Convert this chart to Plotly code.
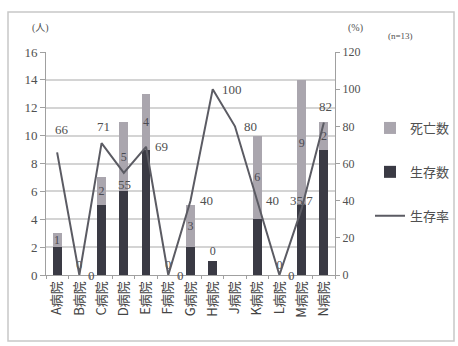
import plotly.graph_objects as go

# Hospital-level outcomes
hospitals = ["A病院", "B病院", "C病院", "D病院", "E病院", "F病院", "G病院",
             "H病院", "J病院", "K病院", "L病院", "M病院", "N病院"]
survived = [2, 0, 5, 6, 9, 0, 2, 1, None, 4, 0, 5, 9]
died = [1, 0, 2, 5, 4, 0, 3, 0, None, 6, 0, 9, 2]
survival_rate = [66, 0, 71, 55, 69, 0, 40, 100, 80, 40, 0, 35.7, 82]
rate_labels = ["66", "0", "71", "55", "69", "0", "40", "100", "80", "40", "0", "35.7", "82"]

# where each survival-rate label sits relative to its point
rate_label_place = ["above-right", "right", "above", "below", "right", "right", "right",
                    "right", "right", "right", "right", "on", "above"]

SERIF = "Liberation Serif, Noto Sans CJK JP, serif"
CJK = "Noto Sans CJK JP, sans-serif"
GRID = "#d4d4d4"
AXIS = "#a0a0a0"
TXT = "#505050"

PLACE = {
    "right": dict(xanchor="left", yanchor="middle", xshift=7, yshift=0),
    "above-right": dict(xanchor="center", yanchor="bottom", xshift=5, yshift=13),
    "above": dict(xanchor="center", yanchor="bottom", xshift=2, yshift=7),
    "below": dict(xanchor="center", yanchor="top", xshift=1, yshift=-2),
    "on": dict(xanchor="center", yanchor="bottom", xshift=0, yshift=-1),
}

died_text = ["" if v is None else str(v) for v in died]
died_pos = ["outside" if (v == 0) else "inside" for v in died]

fig = go.Figure()

fig.add_trace(go.Bar(
    x=hospitals, y=survived, name="生存数",
    marker=dict(color="#3a3a44", line=dict(width=0)),
    width=0.4, legendrank=2, legendgroup="g2",
))
fig.add_trace(go.Bar(
    x=hospitals, y=died, name="死亡数",
    marker=dict(color="#aaa6ae", line=dict(width=0)),
    width=0.4, legendrank=1, legendgroup="g1",
    text=died_text, textposition=died_pos, constraintext="none",
    insidetextanchor="middle",
    textfont=dict(family=SERIF, size=12, color="#4a4a52"),
    cliponaxis=False,
))
fig.add_trace(go.Scatter(
    x=hospitals, y=survival_rate, name="生存率", yaxis="y2",
    mode="lines",
    line=dict(color="#5b5b63", width=2),
    legendrank=3, legendgroup="g3", cliponaxis=False,
))

# survival-rate data labels
for h, v, t, p in zip(hospitals, survival_rate, rate_labels, rate_label_place):
    fig.add_annotation(x=h, y=v, xref="x", yref="y2", text=t, showarrow=False,
                       font=dict(family=SERIF, size=13, color=TXT), **PLACE[p])

# Outer frame of the chart
fig.add_shape(type="rect", xref="paper", yref="paper",
              x0=8 / 458, x1=454 / 458, y0=1 - 341 / 346, y1=1 - 12 / 346,
              line=dict(color="#c8c8c8", width=1.5), layer="below")

for txt, px, py, sz in [("(人)", 40, 28, 10), ("(%)", 355, 28, 10), ("(n=13)", 400, 36, 9)]:
    fig.add_annotation(text=txt, x=px / 458, y=1 - py / 346, xref="paper", yref="paper",
                       xanchor="center", yanchor="middle", showarrow=False,
                       font=dict(family=SERIF, size=sz, color=TXT))

fig.update_layout(
    width=458, height=346,
    margin=dict(l=0, r=0, t=0, b=0, autoexpand=False),
    paper_bgcolor="white", plot_bgcolor="white",
    barmode="stack",
    showlegend=True,
    legend=dict(x=370 / 458, y=1 - 113 / 346, xanchor="left", yanchor="top",
                font=dict(family=CJK, size=13, color=TXT),
                tracegroupgap=24, itemwidth=30, bgcolor="rgba(0,0,0,0)",
                traceorder="grouped"),
    xaxis=dict(
        domain=[46 / 458, 335 / 458],
        type="category", automargin=False,
        tickangle=-90,
        tickfont=dict(family=CJK, size=13, color="#444"),
        showline=True, linecolor=AXIS, linewidth=1,
        ticks="outside", ticklen=3, tickcolor=AXIS, tickson="boundaries",
        showgrid=False,
    ),
    yaxis=dict(
        domain=[1 - 275 / 346, 1 - 52 / 346], automargin=False,
        range=[0, 16], dtick=2,
        tickfont=dict(family=SERIF, size=13, color=TXT),
        showline=True, linecolor=AXIS, linewidth=1,
        ticks="outside", ticklen=5, tickcolor=AXIS,
        showgrid=True, gridcolor=GRID, gridwidth=1.5,
        zeroline=False,
    ),
    yaxis2=dict(
        overlaying="y", side="right", automargin=False,
        range=[0, 120], dtick=20,
        tickfont=dict(family=SERIF, size=12, color=TXT),
        showline=True, linecolor=AXIS, linewidth=1,
        ticks="outside", ticklen=4, tickcolor=AXIS,
        showgrid=False, zeroline=False,
    ),
)

fig.write_html("out.html")
